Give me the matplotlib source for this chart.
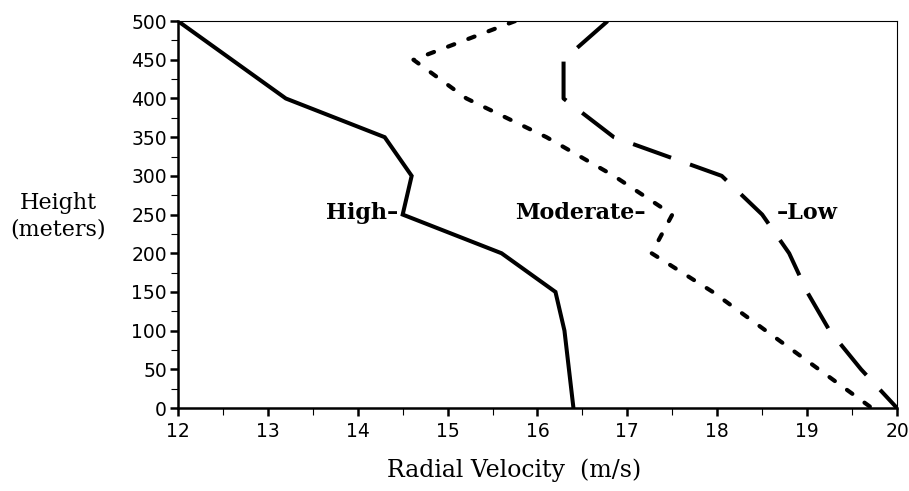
import numpy as np
import matplotlib.pyplot as plt
from matplotlib.ticker import MultipleLocator

# heights (m) and radial velocities (m/s)
high_h = [500, 400, 350, 300, 250, 200, 150, 100, 0]
high_v = [12.0, 13.2, 14.3, 14.6, 14.5, 15.6, 16.2, 16.3, 16.4]

mod_h = [500, 450, 400, 350, 300, 250, 200, 150, 0]
mod_v = [15.75, 14.62, 15.21, 16.1, 16.85, 17.5, 17.27, 17.95, 19.72]

low_h = [500, 450, 400, 350, 300, 250, 200, 150, 100, 50, 0]
low_v = [16.78, 16.29, 16.29, 16.85, 18.05, 18.5, 18.8, 19.0, 19.25, 19.6, 20.0]

serif = 'DejaVu Serif'
sans = 'DejaVu Sans'

fig = plt.figure(figsize=(9.09, 4.91), dpi=100)
ax = fig.add_axes([0.1958, 0.169, 0.7910, 0.788])

ax.plot(high_v, high_h, color='black', lw=2.9, solid_joinstyle='miter')
ax.plot(mod_v, mod_h, color='black', lw=3.0, dashes=(1.6, 3.6), dash_capstyle='round')
ax.plot(low_v, low_h, color='black', lw=2.9, dashes=(10, 5))

ax.set_xlim(12, 20)
ax.set_ylim(0, 500)
ax.xaxis.set_major_locator(MultipleLocator(1))
ax.xaxis.set_minor_locator(MultipleLocator(0.5))
ax.yaxis.set_major_locator(MultipleLocator(50))
ax.yaxis.set_minor_locator(MultipleLocator(25))

ax.spines['left'].set_linewidth(1.8)
ax.spines['bottom'].set_linewidth(1.8)
ax.spines['top'].set_linewidth(0.8)
ax.spines['right'].set_linewidth(0.8)

ax.tick_params(which='major', length=6, width=1.8, direction='out', pad=2)
ax.tick_params(which='minor', length=5, width=0.8, direction='out')
ax.tick_params(axis='x', which='major', pad=4)
for lab in ax.get_xticklabels() + ax.get_yticklabels():
    lab.set_fontfamily(sans)
    lab.set_fontsize(13.5)

# curve labels
ax.text(14.45, 252, 'High\u2013', family=serif, fontsize=16, fontweight='bold',
        ha='right', va='center')
ax.text(17.2, 252, 'Moderate\u2013', family=serif, fontsize=16, fontweight='bold',
        ha='right', va='center')
ax.text(18.66, 252, '\u2013Low', family=serif, fontsize=16, fontweight='bold',
        ha='left', va='center')

fig.text(58 / 909, 1 - 216 / 491, 'Height\n(meters)', family=serif, fontsize=16,
         ha='center', va='center', linespacing=1.25)
fig.text(514 / 909, 1 - 470 / 491, 'Radial Velocity  (m/s)', family=serif,
         fontsize=17, ha='center', va='center')

fig.savefig('out.png', dpi=100)
